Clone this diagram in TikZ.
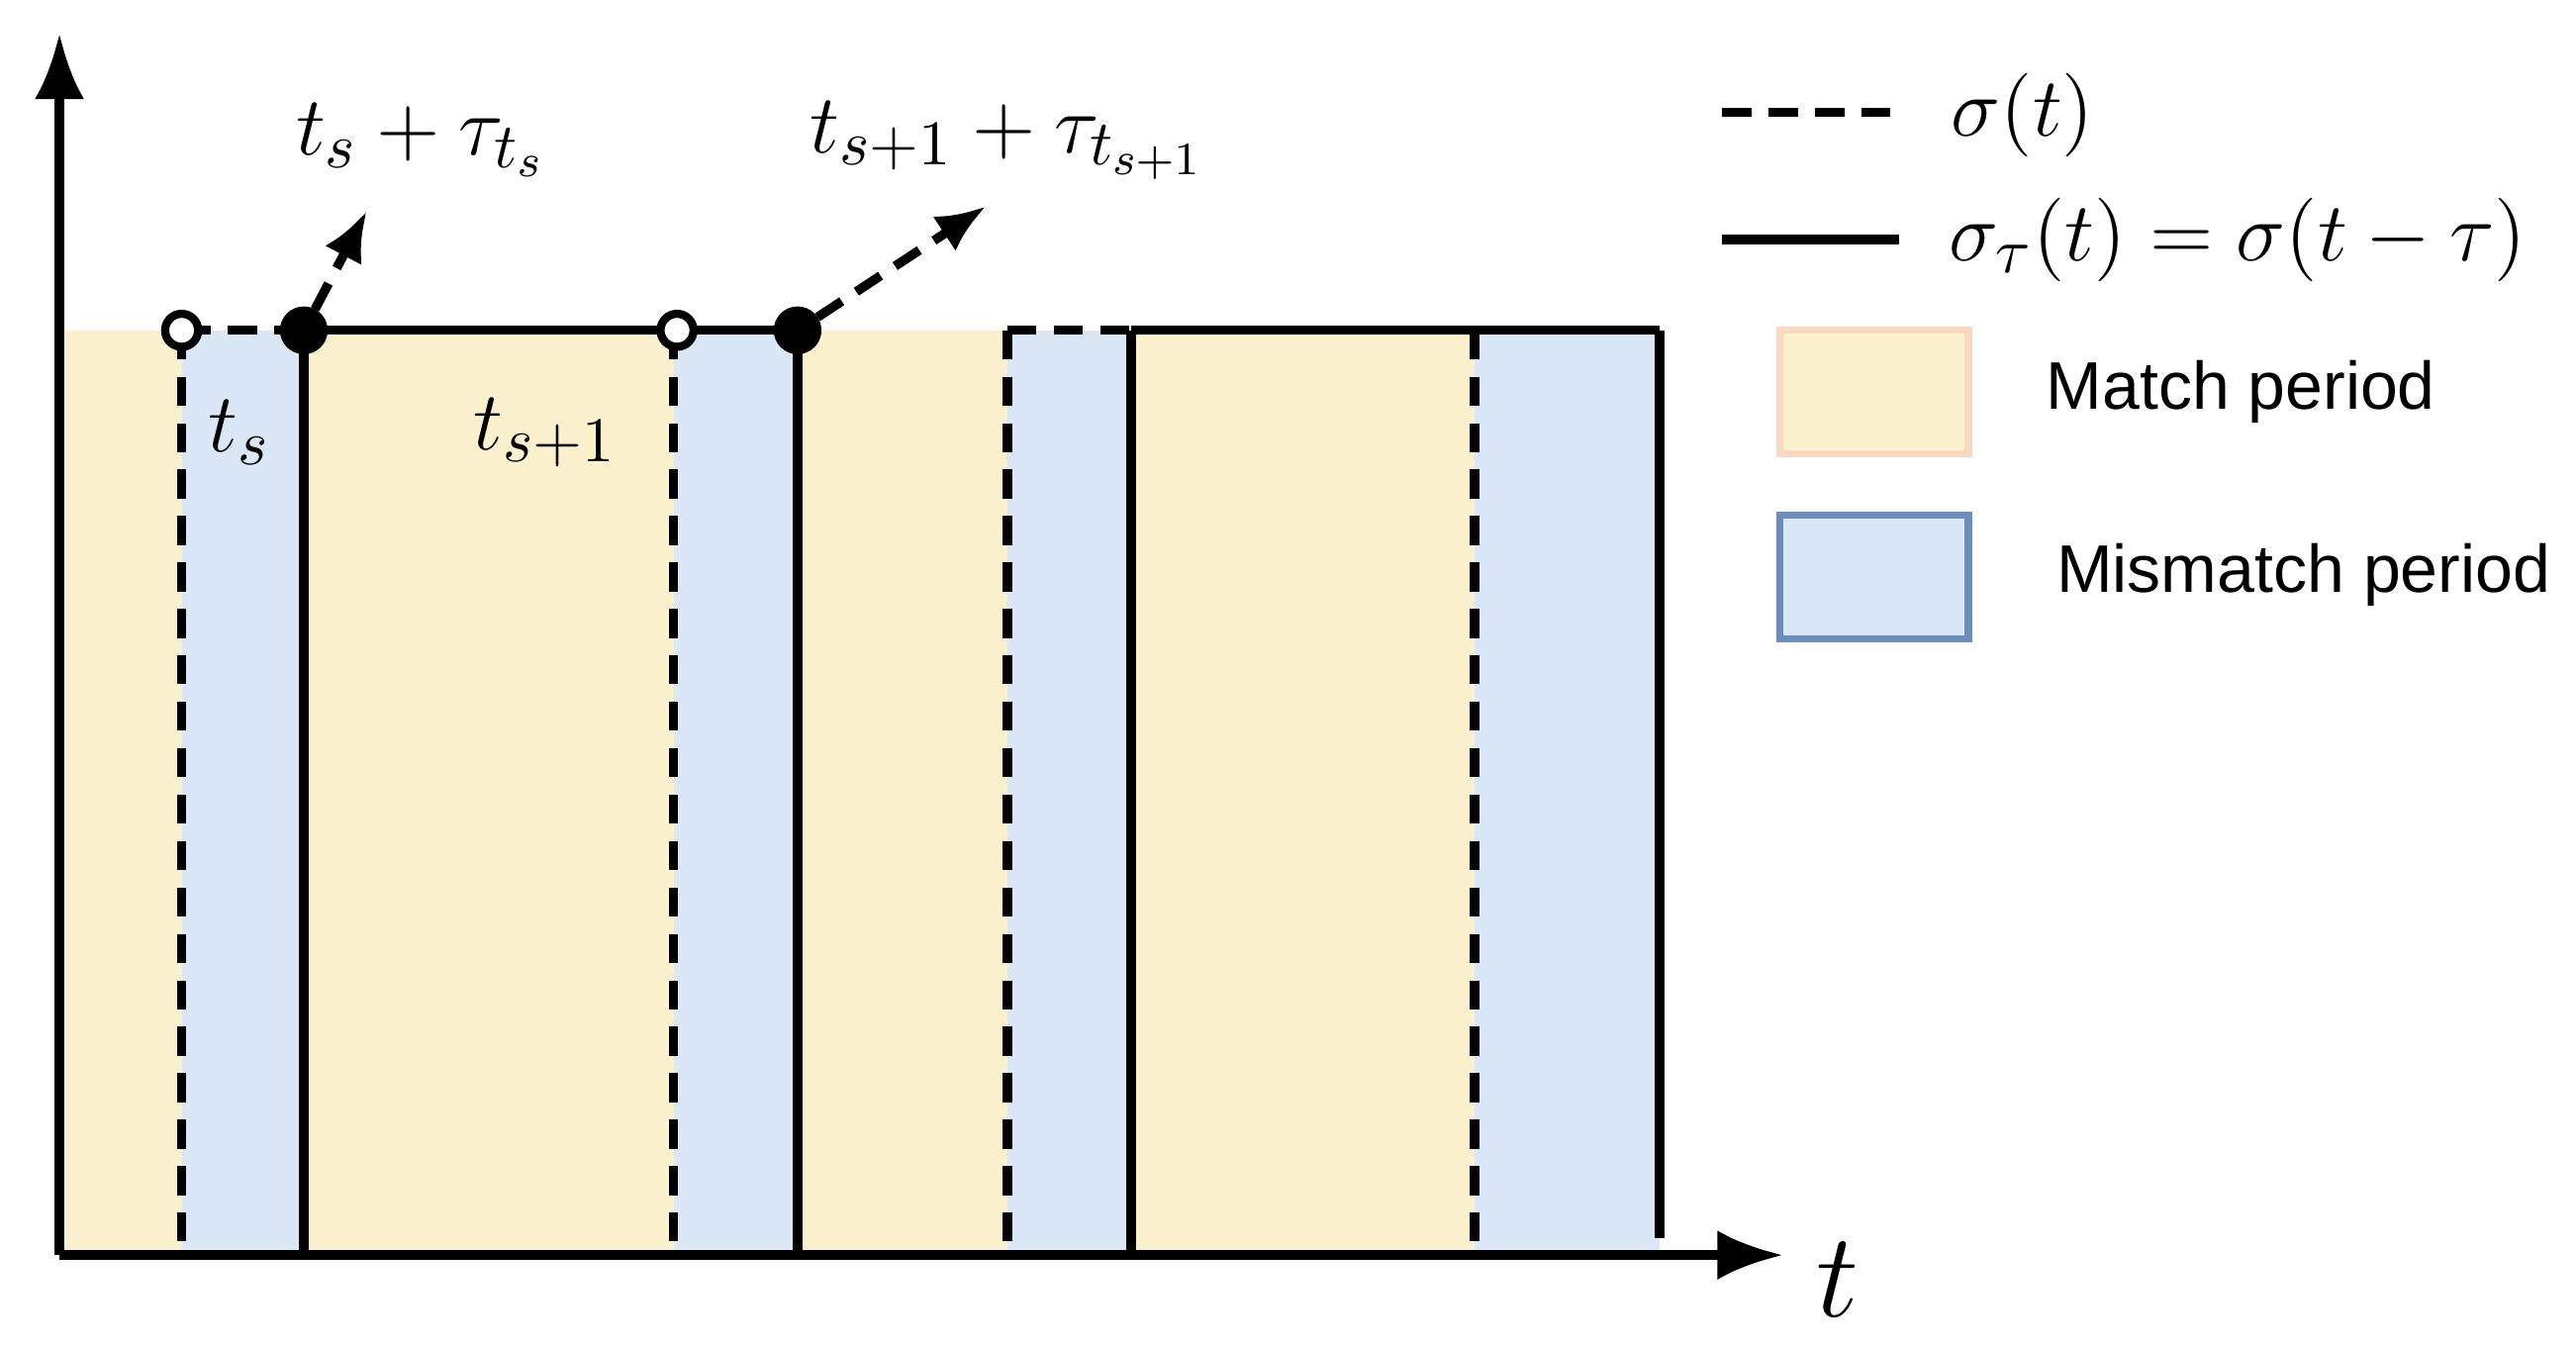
\documentclass[tikz,border=0pt]{standalone}
\usepackage{fontspec}
\newfontfamily\lsans{Liberation Sans}
\usetikzlibrary{arrows.meta}
\definecolor{ylw}{HTML}{FCF1CD}
\definecolor{blu}{HTML}{DAE7F6}
\definecolor{bluB}{HTML}{6C8EBF}
\definecolor{orgB}{HTML}{FAD9C0}
\begin{document}
\begin{tikzpicture}[x=0.1mm,y=-0.1mm,
  ln/.style={line width=1.6pt},
  dl/.style={line width=1.6pt,dash pattern=on 5pt off 3pt},
  oc/.style={circle,draw,line width=1.4pt,fill=white,minimum size=2mm,inner sep=0pt},
  fc/.style={circle,draw,line width=1.4pt,fill=black,minimum size=2.4mm,inner sep=0pt},
  ml/.style={font=\fontsize{15.5}{19}\selectfont},
  lg/.style={font=\lsans\fontsize{11.6}{14}\selectfont}]
\useasboundingbox (0,0) rectangle (1560,815);
% regions
\fill[ylw] (36,200) rectangle (110,760);
\fill[blu] (110,200) rectangle (184,760);
\fill[ylw] (184,200) rectangle (408,760);
\fill[blu] (408,200) rectangle (483,760);
\fill[ylw] (483,200) rectangle (610,760);
\fill[blu] (610,200) rectangle (685,760);
\fill[ylw] (685,200) rectangle (893,760);
\fill[blu] (893,200) rectangle (1005,760);
% verticals
\foreach \x in {110,408,610,893} \draw[dl] (\x,200) -- (\x,760);
\foreach \x in {184,483,685} \draw[ln] (\x,200) -- (\x,760);
\draw[ln] (1005,200) -- (1005,750);
% top
\draw[dl] (110,200) -- (184,200);
\draw[ln] (184,200) -- (483,200);
\draw[dl] (610,200) -- (685,200);
\draw[ln] (685,200) -- (1005,200);
% axes
\coordinate (o) at (36,760);
\coordinate (ye) at (36,20);
\coordinate (xe) at (1080,760);
\draw[ln,-{Latex[length=4mm,width=3mm]}] (o) -- (ye);
\draw[ln,-{Latex[length=4mm,width=3mm]}] (o) -- (xe);
\node[font=\fontsize{22}{26}\selectfont] (tl) at (1113,775) {$t$};
% points
\node[oc] (p1) at (110,200) {};
\node[fc] (p2) at (184,200) {};
\node[oc] (p3) at (410,200) {};
\node[fc] (p4) at (483,200) {};
\coordinate (a1) at (222,128);
\coordinate (a2) at (597,125);
\draw[dl,-{Latex[length=3mm,width=2.5mm]}] (p2) -- (a1);
\draw[dl,-{Latex[length=3mm,width=2.5mm]}] (p4) -- (a2);
\node[ml] (l1) at (255,85) {$t_s+\tau_{t_s}$};
\node[ml] (l2) at (610,85) {$t_{s+1}+\tau_{t_{s+1}}$};
\node[ml] (l3) at (145,262) {$t_s$};
\node[ml] (l4) at (330,262) {$t_{s+1}$};
% legend
\coordinate (d1) at (1043,68); \coordinate (d2) at (1150,68);
\coordinate (s1) at (1043,145); \coordinate (s2) at (1150,145);
\draw[dl] (d1) -- (d2);
\draw[ln] (s1) -- (s2);
\node[ml] (lg1) at (1225,70) {$\sigma(t)$};
\node[ml] (lg2) at (1355,145) {$\sigma_\tau(t)=\sigma(t-\tau)$};
\draw[orgB,fill=ylw,line width=1.2pt] (1078,200) rectangle (1192,275);
\draw[bluB,fill=blu,line width=1.2pt] (1078,312) rectangle (1192,387);
\node[lg] (m1) at (1357,237) {Match period};
\node[lg] (m2) at (1395,348) {Mismatch period};
\end{tikzpicture}
\end{document}
